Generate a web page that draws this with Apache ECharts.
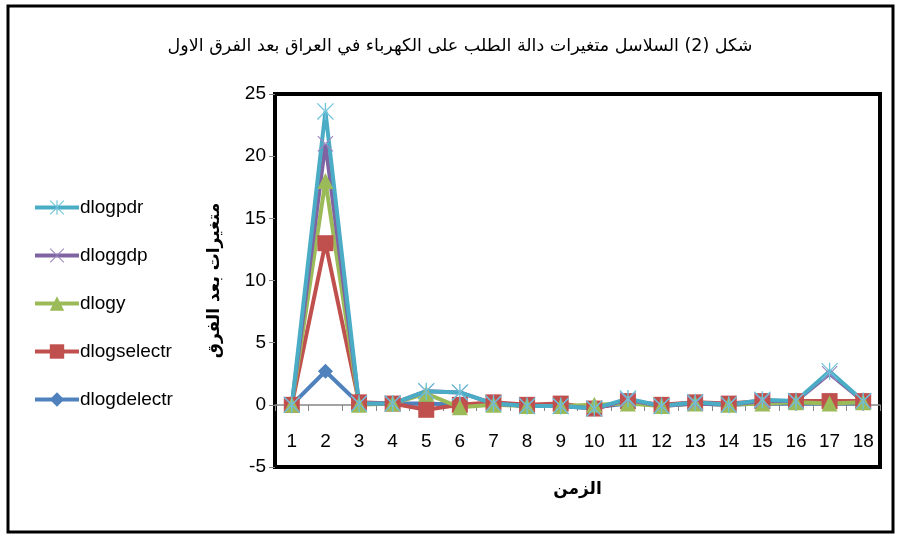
<!DOCTYPE html>
<html>
<head>
<meta charset="utf-8">
<script src="https://cdn.jsdelivr.net/npm/echarts@6/dist/echarts.min.js"></script>
<style>
  html, body { margin: 0; padding: 0; background: #fff; }
  #chart { width: 898px; height: 534px; }
</style>
</head>
<body>
<div id="chart"></div>
<script>
// categories (time periods)
var periods = ['1', '2', '3', '4', '5', '6', '7', '8', '9', '10', '11', '12', '13', '14', '15', '16', '17', '18'];

// series values
var dlogdelectr = [0, 2.7, 0.1, 0.1, 0.1, 0, 0.1, -0.1, -0.1, -0.2, 0.1, 0, 0.1, 0, 0.1, 0.1, 0.1, 0.1];
var dlogselectr = [0, 13.0, 0.2, 0.1, -0.4, 0.0, 0.2, 0, 0.1, -0.3, 0.3, 0, 0.2, 0.1, 0.3, 0.3, 0.3, 0.3];
var dlogy       = [0, 18.0, 0, 0.1, 0.9, -0.2, 0, -0.1, -0.1, 0.0, 0.1, -0.1, 0.1, 0, 0.1, 0.2, 0.1, 0.2];
var dloggdp     = [0, 21.0, 0.1, 0.1, 1.1, 1.0, 0.1, -0.1, -0.1, -0.3, 0.4, -0.1, 0.1, 0, 0.3, 0.3, 2.5, 0.3];
var dlogpdr     = [0, 23.6, 0.1, 0.1, 1.1, 1.0, 0.1, -0.1, -0.1, -0.3, 0.5, -0.1, 0.2, 0, 0.4, 0.3, 2.7, 0.3];

var narrow = "'Liberation Sans Narrow', 'Liberation Sans', Arial, sans-serif";

// marker shapes (excel style star and x)
var starPath = 'path://M1,0 L0,1 L19,20 L20,19 Z M19,0 L20,1 L1,20 L0,19 Z M9.2,0 L10.8,0 L10.8,20 L9.2,20 Z';
var xPath = 'path://M1,0 L0,1 L19,20 L20,19 Z M19,0 L20,1 L1,20 L0,19 Z';

function mkSeries(name, data, color, symbol, size, markerColor) {
    return {
        name: name,
        type: 'line',
        data: data,
        symbol: symbol,
        symbolSize: size,
        showAllSymbol: true,
        lineStyle: { color: color, width: 4 },
        itemStyle: { color: markerColor || color },
        emphasis: { disabled: true },
        animation: false
    };
}

var chart = echarts.init(document.getElementById('chart'));
chart.setOption({
    backgroundColor: '#fff',
    animation: false,
    title: {
        text: 'شكل (2) السلاسل متغيرات دالة الطلب على الكهرباء في العراق بعد الفرق الاول',
        left: 455,
        textAlign: 'center',
        top: 32,
        textStyle: { fontSize: 17.5, fontWeight: 'normal', color: '#000', fontFamily: "'DejaVu Sans', sans-serif" }
    },
    legend: {
        orient: 'vertical',
        left: 28,
        top: 193,
        itemGap: 29,
        itemWidth: 44,
        itemHeight: 18,
        lineStyle: { width: 4 },
        data: ['dlogpdr', 'dloggdp', 'dlogy', 'dlogselectr', 'dlogdelectr'],
        textStyle: { fontSize: 19, color: '#000', fontFamily: narrow, padding: [0, 0, 0, -4] }
    },
    grid: {
        left: 275, right: 18, top: 94, bottom: 67,
        outerBoundsMode: 'none',
        containLabel: false,
        show: true,
        borderColor: '#000',
        borderWidth: 4
    },
    xAxis: {
        type: 'category',
        data: periods,
        boundaryGap: true,
        // axis sits on the zero line (5 units above the bottom)
        offset: -62,
        axisLine: { onZero: false, lineStyle: { color: '#868686', width: 1.5 } },
        axisTick: { show: true, inside: false, length: 6, lineStyle: { color: '#868686' } },
        axisLabel: { fontSize: 19, color: '#000', margin: 27, fontFamily: narrow },
        name: 'الزمن',
        nameLocation: 'middle',
        nameGap: 76,
        nameTextStyle: { fontSize: 17, fontWeight: 'bold', color: '#000', fontFamily: "'DejaVu Sans', sans-serif" }
    },
    yAxis: {
        type: 'value',
        min: -5,
        max: 25,
        interval: 5,
        splitLine: { show: false },
        axisLine: { show: false },
        axisTick: { show: true, length: 6, lineStyle: { color: '#868686' } },
        axisLabel: { fontSize: 19, color: '#000', margin: 9, fontFamily: narrow },
        name: 'متغيرات بعد الفرق',
        nameLocation: 'middle',
        nameRotate: 90,
        nameGap: 52,
        nameTextStyle: { fontSize: 17, fontWeight: 'bold', color: '#000', fontFamily: "'DejaVu Sans', sans-serif" }
    },
    graphic: [{
        type: 'rect',
        shape: { x: 8, y: 6, width: 885, height: 526 },
        style: { fill: null, stroke: '#000', lineWidth: 3 },
        silent: true
    }],
    series: [
        mkSeries('dlogdelectr', dlogdelectr, '#4F81BD', 'diamond', 15),
        mkSeries('dlogselectr', dlogselectr, '#C0504D', 'rect', 16),
        mkSeries('dlogy', dlogy, '#9BBB59', 'triangle', 16),
        mkSeries('dloggdp', dloggdp, '#8064A2', xPath, 16, '#9B86C0'),
        mkSeries('dlogpdr', dlogpdr, '#4BACC6', starPath, 17, '#6CC3DA')
    ]
});
</script>
</body>
</html>
